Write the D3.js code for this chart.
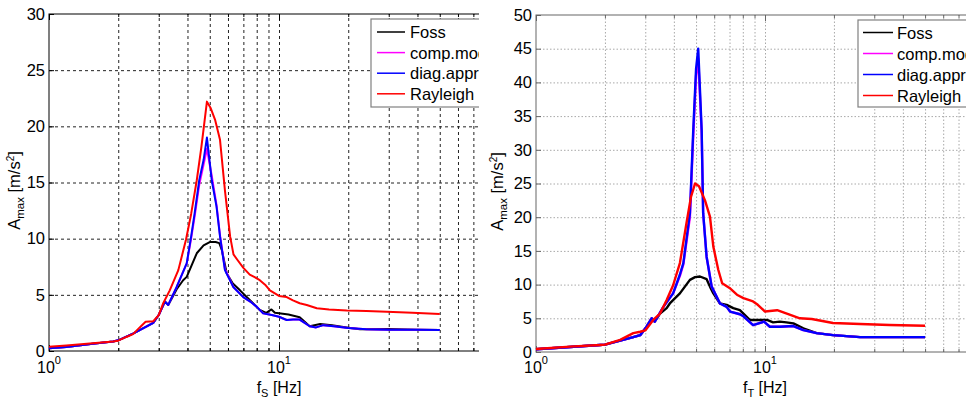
<!DOCTYPE html>
<html>
<head>
<meta charset="utf-8">
<title>Amax vs frequency</title>
<script src="https://d3js.org/d3.v7.min.js"></script>
<style>
  body { margin: 0; background: #fff; }
  svg text { font-family: "Liberation Sans", Arial, sans-serif; }
</style>
</head>
<body>
<svg width="974" height="402"></svg>
<script>
// legend names (cut off by the figure edge in the original)
const seriesNames = ["Foss", "comp.mod", "diag.appr", "Rayleigh"];
const seriesColors = ["#000000", "#ff00ff", "#0000ff", "#ff0000"];

// ---- left panel: f_S ----
const sFossF = [1, 1.19, 1.55, 1.9, 2.0, 2.33, 2.66, 2.84, 3.0, 3.19, 3.3, 3.59, 3.83, 3.97, 4.39, 4.7, 5.0, 5.3, 5.5, 5.64, 5.93, 6.3, 6.77, 7.5, 8.25, 8.8, 9.27, 9.6, 10, 11, 12.3, 13.6, 15.1, 17, 19.7, 22.5, 30, 40, 50];
const sFossA = [0.24, 0.36, 0.65, 0.85, 0.95, 1.57, 2.2, 2.5, 3.2, 4.4, 4.1, 5.5, 6.3, 6.6, 8.7, 9.4, 9.7, 9.7, 9.6, 9.0, 6.9, 6.0, 5.4, 4.5, 3.65, 3.4, 3.7, 3.4, 3.36, 3.25, 3.0, 2.2, 2.4, 2.3, 2.1, 1.93, 1.95, 1.9, 1.88];

const sCompF = [1, 1.19, 1.55, 1.9, 2.0, 2.33, 2.66, 2.84, 3.0, 3.19, 3.3, 3.59, 3.97, 4.15, 4.3, 4.5, 4.7, 4.86, 5.1, 5.35, 5.54, 5.82, 6.33, 6.99, 7.5, 7.99, 8.53, 9.3, 10, 10.8, 11.5, 12.3, 13.6, 14.5, 15.6, 17.3, 20, 24, 30, 40, 50];
const sCompA = [0.24, 0.36, 0.65, 0.85, 0.95, 1.57, 2.2, 2.5, 3.2, 4.4, 4.1, 5.7, 7.8, 10.0, 12.0, 14.8, 16.6, 18.0, 15.6, 13.0, 10.3, 7.3, 5.7, 4.8, 4.4, 3.95, 3.35, 3.2, 3.05, 2.76, 2.8, 2.8, 2.2, 2.1, 2.3, 2.2, 2.05, 1.93, 1.9, 1.9, 1.88];

const sDiagF = [1, 1.19, 1.55, 1.9, 2.0, 2.33, 2.66, 2.84, 3.0, 3.19, 3.3, 3.59, 3.97, 4.15, 4.3, 4.5, 4.7, 4.86, 5.1, 5.35, 5.54, 5.82, 6.33, 6.99, 7.5, 7.99, 8.53, 9.3, 10, 10.8, 11.5, 12.3, 13.6, 14.5, 15.6, 17.3, 20, 24, 30, 40, 50];
const sDiagA = [0.24, 0.36, 0.65, 0.85, 0.95, 1.57, 2.2, 2.5, 3.2, 4.4, 4.1, 5.7, 7.8, 10.2, 12.3, 15.2, 17.0, 19.0, 15.2, 12.85, 10.2, 7.2, 5.7, 4.8, 4.4, 3.95, 3.35, 3.2, 3.05, 2.76, 2.8, 2.8, 2.2, 2.1, 2.3, 2.2, 2.05, 1.93, 1.9, 1.9, 1.88];

const sRayF = [1, 1.19, 1.55, 1.9, 2.0, 2.17, 2.32, 2.48, 2.63, 2.84, 3.0, 3.13, 3.35, 3.65, 3.94, 4.15, 4.39, 4.6, 4.86, 5.05, 5.27, 5.54, 5.82, 6.13, 6.34, 6.6, 7.0, 7.46, 7.8, 8.25, 8.7, 9.13, 10, 10.8, 11.5, 12.3, 13.2, 14.6, 16.5, 19.7, 24, 29.4, 38, 50];
const sRayA = [0.38, 0.5, 0.7, 0.85, 0.92, 1.25, 1.5, 2.1, 2.6, 2.65, 3.2, 4.2, 5.4, 7.2, 9.9, 12.2, 15.2, 18.2, 22.2, 21.6, 20.6, 18.8, 14.3, 10.2, 8.6, 8.1, 7.4, 6.8, 6.6, 6.3, 5.9, 5.4, 4.9, 4.8, 4.5, 4.25, 4.1, 3.8, 3.7, 3.6, 3.55, 3.5, 3.4, 3.3];

// ---- right panel: f_T ----
const tFossF = [1, 1.41, 1.9, 2.0, 2.33, 2.66, 2.85, 3.04, 3.2, 3.3, 3.48, 3.72, 3.84, 4.25, 4.7, 4.95, 5.2, 5.56, 5.75, 5.95, 6.36, 6.8, 7.27, 7.77, 8.05, 8.6, 9.2, 10.2, 10.85, 11.6, 12.4, 13.3, 14.7, 16.8, 19.8, 26, 35, 50];
const tFossA = [0.4, 0.75, 1.04, 1.1, 1.7, 2.2, 2.5, 3.75, 5.0, 4.5, 5.7, 6.5, 7.2, 8.7, 10.7, 11.1, 11.2, 10.8, 9.7, 8.7, 7.2, 7.0, 6.5, 6.2, 5.7, 4.75, 4.75, 4.75, 4.4, 4.5, 4.4, 4.25, 3.5, 2.8, 2.5, 2.2, 2.2, 2.2];

const tCompF = [1, 1.41, 1.9, 2.0, 2.33, 2.66, 2.85, 3.04, 3.2, 3.3, 3.6, 3.97, 4.25, 4.4, 4.7, 4.86, 5.0, 5.11, 5.29, 5.37, 5.56, 5.85, 6.36, 6.8, 7.04, 7.77, 8.05, 8.87, 9.9, 10.5, 11.6, 13.3, 14.7, 16.8, 19.8, 26, 35, 50];
const tCompA = [0.4, 0.75, 1.04, 1.1, 1.7, 2.2, 2.5, 3.75, 5.0, 4.5, 6.7, 8.7, 11.3, 13.0, 20.0, 32.0, 41.0, 43.5, 32.5, 20.6, 14.1, 9.7, 7.2, 6.7, 6.0, 5.6, 5.3, 4.0, 4.5, 3.75, 3.75, 3.85, 3.25, 2.8, 2.5, 2.2, 2.2, 2.2];

const tDiagF = [1, 1.41, 1.9, 2.0, 2.33, 2.66, 2.85, 3.04, 3.2, 3.3, 3.6, 3.97, 4.25, 4.4, 4.7, 4.86, 5.0, 5.11, 5.29, 5.37, 5.56, 5.85, 6.36, 6.8, 7.04, 7.77, 8.05, 8.87, 9.9, 10.5, 11.6, 13.3, 14.7, 16.8, 19.8, 26, 35, 50];
const tDiagA = [0.4, 0.75, 1.04, 1.1, 1.7, 2.2, 2.5, 3.75, 5.0, 4.5, 6.7, 8.7, 11.5, 13.2, 20.6, 32.9, 42.0, 45.0, 32.9, 20.6, 14.1, 9.7, 7.2, 6.7, 6.0, 5.6, 5.3, 4.0, 4.5, 3.75, 3.75, 3.85, 3.25, 2.8, 2.5, 2.2, 2.2, 2.2];

const tRayF = [1, 1.41, 1.9, 2.0, 2.33, 2.66, 2.85, 3.0, 3.25, 3.48, 3.72, 3.97, 4.25, 4.54, 4.75, 4.95, 5.15, 5.47, 5.75, 5.95, 6.25, 6.5, 7.0, 7.54, 8.05, 8.87, 9.3, 10.0, 11.3, 12.9, 14.2, 16, 19.8, 26, 35, 50];
const tRayA = [0.45, 0.8, 1.04, 1.1, 1.8, 2.8, 3.0, 3.2, 4.75, 5.7, 7.7, 9.9, 13.2, 19.1, 23.0, 25.0, 24.6, 22.5, 20.1, 15.6, 12.2, 10.2, 9.5, 8.5, 8.0, 7.5, 7.0, 6.0, 6.2, 5.5, 5.0, 4.9, 4.3, 4.15, 4.0, 3.9];

// axis ticks
const sYTicks = [0, 5, 10, 15, 20, 25, 30];
const tYTicks = [0, 5, 10, 15, 20, 25, 30, 35, 40, 45, 50];
const fMajor = [1, 10, 100];
const fMinor = [2, 3, 4, 5, 6, 7, 8, 9, 20, 30, 40, 50, 60, 70, 80, 90];

const svg = d3.select("svg");
const defs = svg.append("defs");

function drawPanel(o) {
  defs.append("clipPath").attr("id", o.id)
    .append("rect").attr("x", o.clipL).attr("y", 0)
    .attr("width", o.clipR - o.clipL).attr("height", 402);

  const g = svg.append("g").attr("clip-path", `url(#${o.id})`);

  const x = d3.scaleLog().domain([1, 100]).range([o.left, o.left + 2 * o.decade]);
  const y = d3.scaleLinear().domain([0, o.yMax]).range([o.bottom, o.top]);
  const h = o.bottom - o.top;
  const w = x(100) - o.left;

  // grid
  const gx = g.append("g").attr("transform", `translate(0,${o.bottom})`)
    .call(d3.axisBottom(x).tickValues(fMinor.concat([10])).tickSize(-h).tickFormat(""));
  gx.select(".domain").remove();
  gx.selectAll("line").attr("stroke", o.gridColor).attr("stroke-dasharray", o.gridDash);

  const gy = g.append("g").attr("transform", `translate(${o.left},0)`)
    .call(d3.axisLeft(y).tickValues(o.yTicks.slice(1, -1)).tickSize(-w).tickFormat(""));
  gy.select(".domain").remove();
  gy.selectAll("line").attr("stroke", o.gridColor).attr("stroke-dasharray", o.gridDash);

  // inward ticks on bottom and top
  [[d3.axisBottom, o.bottom], [d3.axisTop, o.top]].forEach(([ax, yy]) => {
    const minor = g.append("g").attr("transform", `translate(0,${yy})`)
      .call(ax(x).tickValues(fMinor).tickSize(-3).tickFormat(""));
    minor.select(".domain").remove();
    minor.selectAll("line").attr("stroke", o.boxColor);
    const major = g.append("g").attr("transform", `translate(0,${yy})`)
      .call(ax(x).tickValues(fMajor).tickSize(-6).tickFormat(""));
    major.select(".domain").remove();
    major.selectAll("line").attr("stroke", o.boxColor);
  });

  // y axis with inward ticks
  const ya = g.append("g").attr("transform", `translate(${o.left},0)`)
    .call(d3.axisLeft(y).tickValues(o.yTicks).tickSize(-5).tickPadding(4));
  ya.select(".domain").remove();
  ya.selectAll("line").attr("stroke", o.boxColor);
  ya.selectAll("text").attr("font-size", 16.5).attr("fill", "#000")
    .attr("font-family", "'Liberation Sans', Arial, sans-serif");

  // box
  g.append("rect").attr("x", o.left).attr("y", o.top).attr("width", w).attr("height", h)
    .attr("fill", "none").attr("stroke", o.boxColor).attr("stroke-width", 1);

  // x tick labels 10^n
  const xl = g.append("g").selectAll("text").data([1, 10]).join("text")
    .attr("x", d => x(d)).attr("y", 373).attr("text-anchor", "middle")
    .attr("font-size", 16);
  xl.append("tspan").text("10");
  xl.append("tspan").attr("dy", -9).attr("font-size", 11).text(d => Math.round(Math.log10(d)));

  // curves
  const line = d3.line().x(d => x(d[0])).y(d => y(d[1])).curve(d3.curveLinear);
  o.series.forEach((s, i) => {
    g.append("path").datum(d3.zip(s[0], s[1]))
      .attr("fill", "none").attr("stroke", seriesColors[i])
      .attr("stroke-width", o.lineWidth).attr("stroke-linejoin", "round")
      .attr("d", line);
  });

  // axis titles
  const xt = g.append("text").attr("x", x(10)).attr("y", 393)
    .attr("text-anchor", "middle").attr("font-size", 16);
  xt.append("tspan").text("f");
  xt.append("tspan").attr("dy", 4).attr("font-size", 11).text(o.sub);
  xt.append("tspan").attr("dy", -4).text(" [Hz]");

  const yt = g.append("text")
    .attr("transform", `translate(${o.yTitleX},${(o.top + o.bottom) / 2 + 8}) rotate(-90)`)
    .attr("text-anchor", "middle").attr("font-size", 16.5);
  yt.append("tspan").text("A");
  yt.append("tspan").attr("dy", 4).attr("font-size", 11.5).text("max");
  yt.append("tspan").attr("dy", -4).text(" [m/s");
  yt.append("tspan").attr("dy", -6).attr("font-size", 10).text("2");
  yt.append("tspan").attr("dy", 6).text("]");

  // legend
  const lg = g.append("g");
  lg.append("rect").attr("x", o.leg.x).attr("y", o.leg.y).attr("width", 160).attr("height", o.leg.h)
    .attr("fill", "#fff").attr("stroke", "#808080").attr("stroke-width", 1.2);
  seriesNames.forEach((n, i) => {
    const yy = o.leg.y0 + i * o.leg.dy;
    lg.append("line").attr("x1", o.leg.x + o.leg.l1).attr("x2", o.leg.x + o.leg.l2)
      .attr("y1", yy).attr("y2", yy).attr("stroke", seriesColors[i]).attr("stroke-width", 1.5);
    lg.append("text").attr("x", o.leg.x + o.leg.tx).attr("y", yy + 6)
      .attr("font-size", 16.5).text(n);
  });
}

drawPanel({
  id: "clipS", clipL: 0, clipR: 479,
  left: 49, decade: 230, top: 14, bottom: 351, yMax: 30, yTicks: sYTicks,
  gridColor: "#222", gridDash: "3,3", boxColor: "#000", lineWidth: 2,
  sub: "S", yTitleX: 20,
  series: [[sFossF, sFossA], [sCompF, sCompA], [sDiagF, sDiagA], [sRayF, sRayA]],
  leg: { x: 371, y: 19, h: 88, y0: 32, dy: 20.6, l1: 6, l2: 34, tx: 39 }
});

drawPanel({
  id: "clipT", clipL: 485, clipR: 966,
  left: 536, decade: 229, top: 15, bottom: 352, yMax: 50, yTicks: tYTicks,
  gridColor: "#a8a8a8", gridDash: "1.5,2", boxColor: "#666", lineWidth: 2.4,
  sub: "T", yTitleX: 503,
  series: [[tFossF, tFossA], [tCompF, tCompA], [tDiagF, tDiagA], [tRayF, tRayA]],
  leg: { x: 858, y: 20, h: 87, y0: 32.5, dy: 21, l1: 5, l2: 35, tx: 39 }
});
</script>
</body>
</html>
